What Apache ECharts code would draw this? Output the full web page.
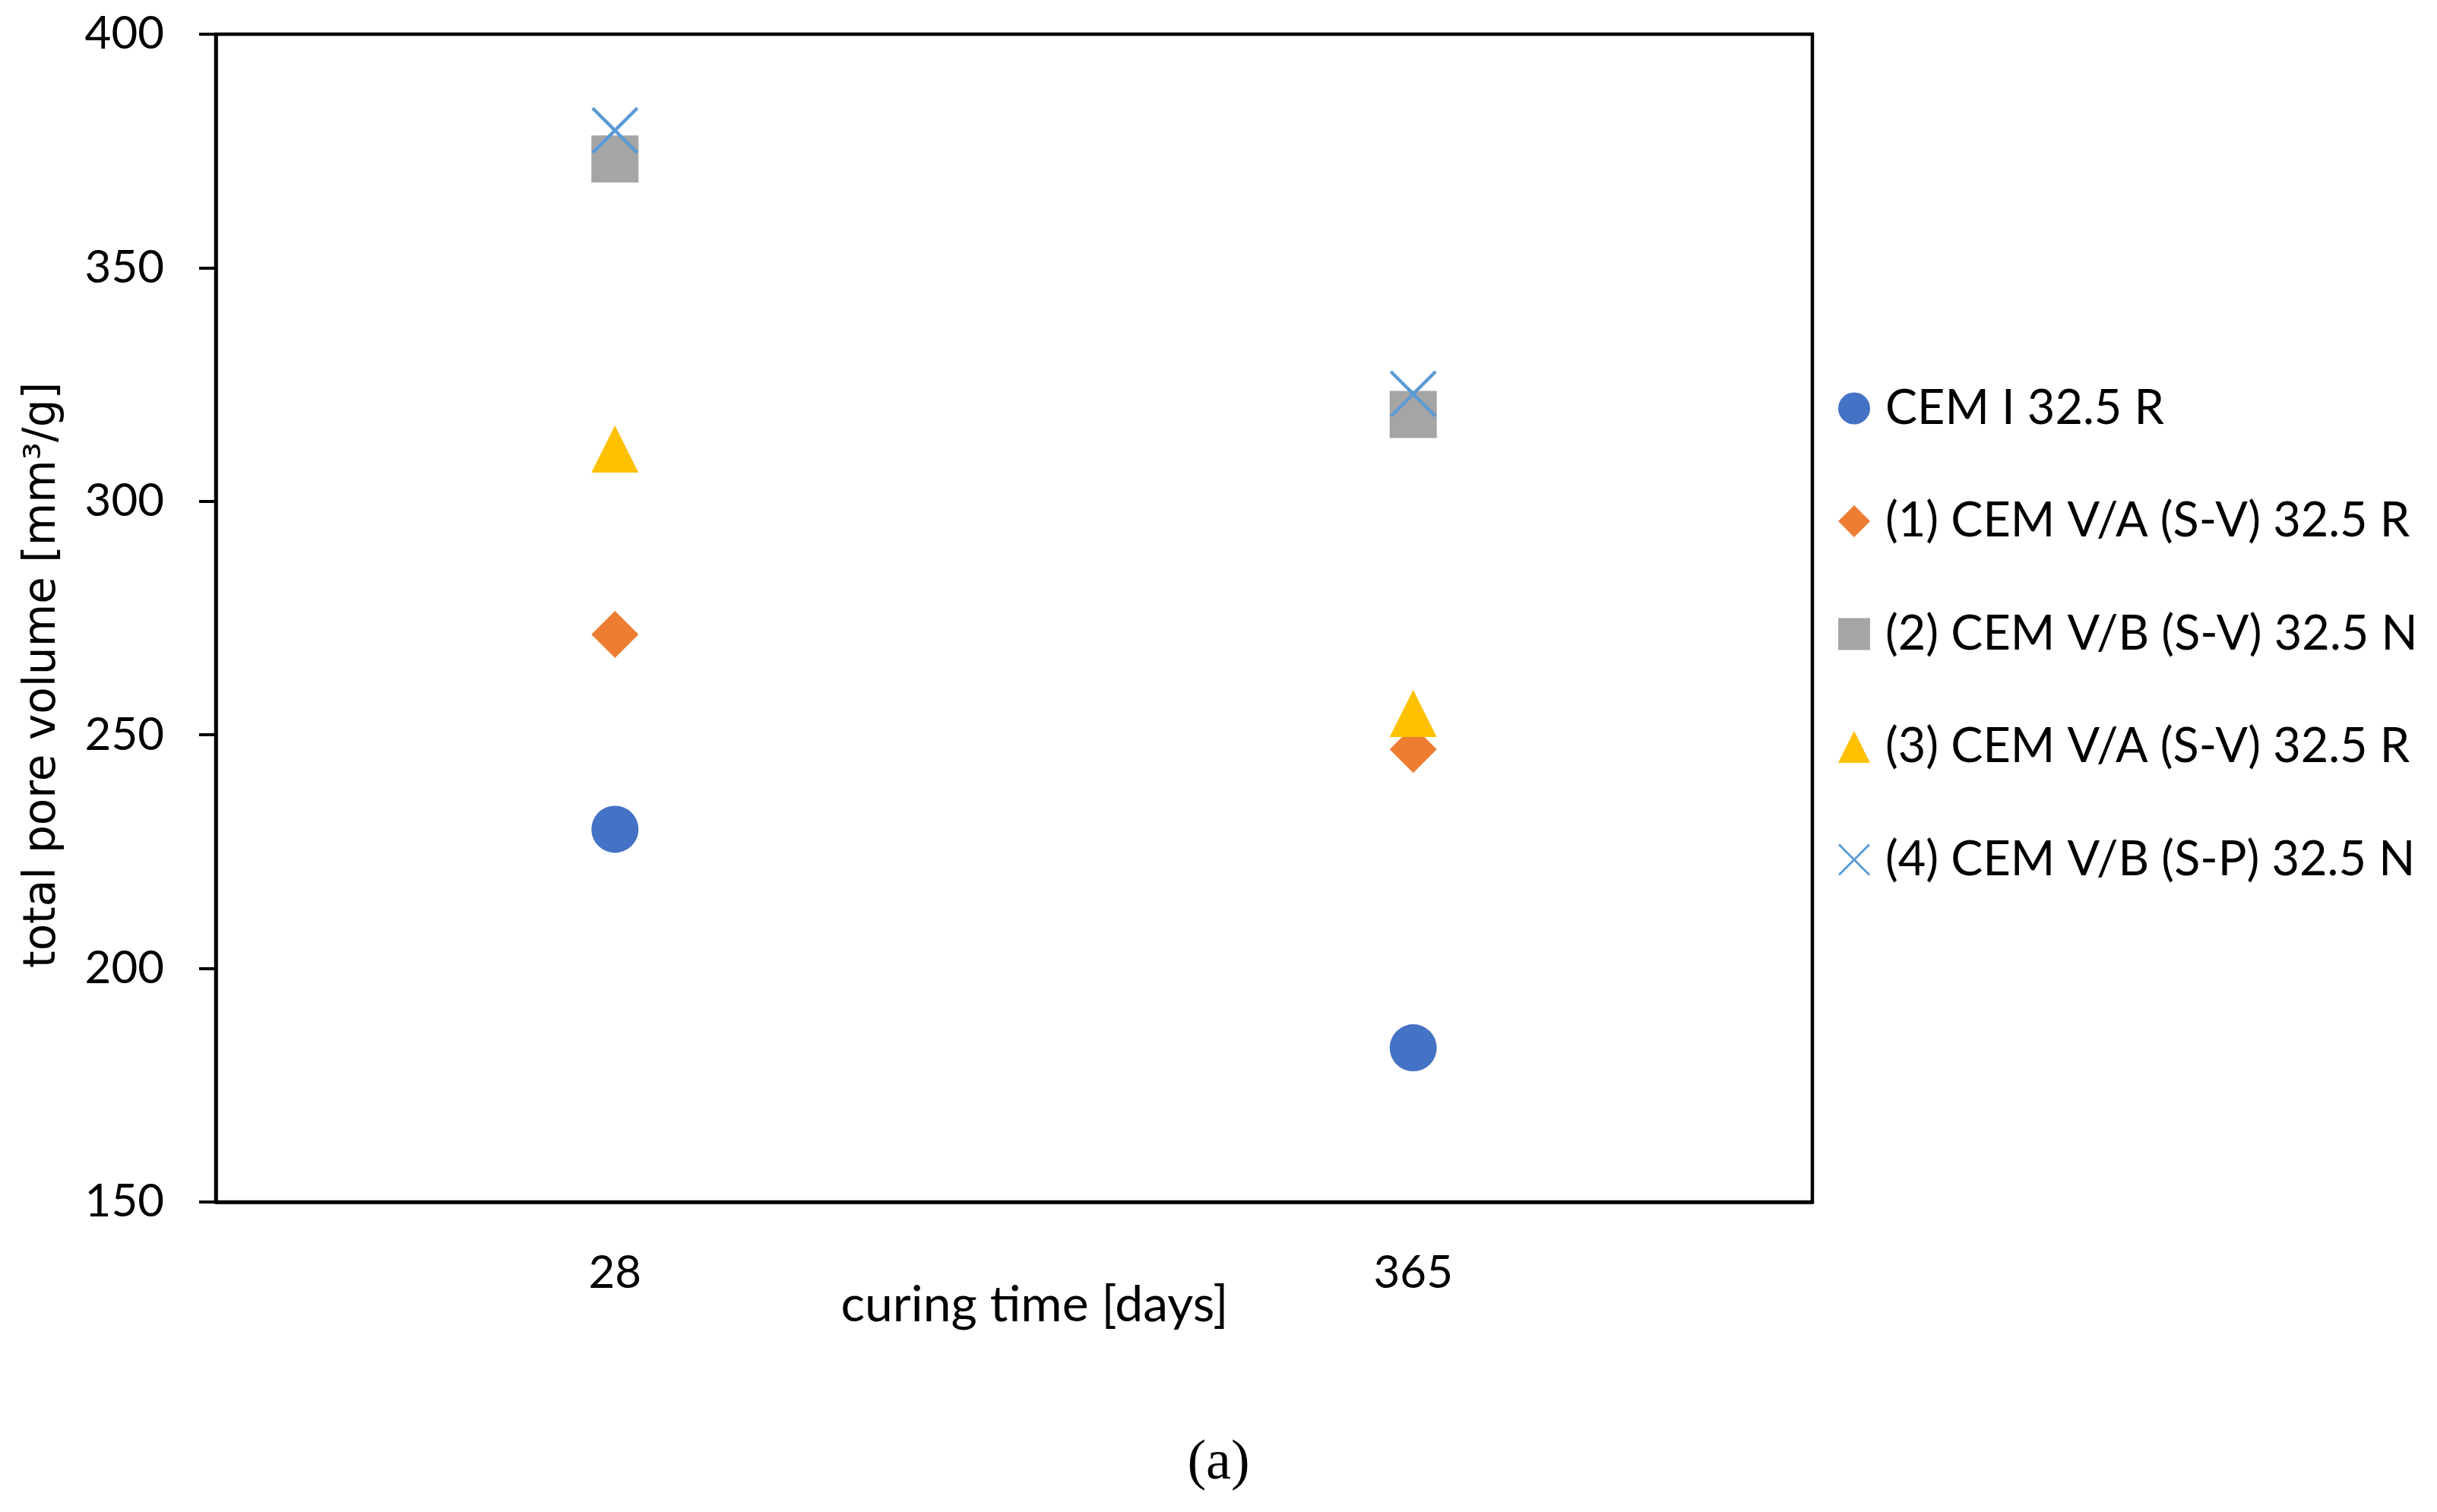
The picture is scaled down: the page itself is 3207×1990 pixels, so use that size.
<!DOCTYPE html>
<html>
<head>
<meta charset="utf-8">
<script src="https://cdn.jsdelivr.net/npm/echarts@6/dist/echarts.min.js"></script>
<style>
  html, body { margin: 0; padding: 0; background: #fff; }
  #main { width: 3207px; height: 1990px; }
</style>
</head>
<body>
<div id="main"></div>
<script>
var categories = ['28', '365'];
var seriesNames = [
	'CEM I 32.5 R',
	'(1) CEM V/A (S-V) 32.5 R',
	'(2) CEM V/B (S-V) 32.5 N',
	'(3) CEM V/A (S-V) 32.5 R',
	'(4) CEM V/B (S-P) 32.5 N'
];
var cemI = [229.8, 183.0];
var cemVA1 = [271.5, 246.9];
var cemVB2 = [373.3, 318.6];
var cemVA3 = [311.2, 254.6];
var cemVB4 = [379.4, 323.0];
var yMin = 150, yMax = 400, yStep = 50;

var values = [cemI, cemVA1, cemVB2, cemVA3, cemVB4];
var colors = ['#4472C4', '#ED7D31', '#A5A5A5', '#FFC000', '#5B9BD5'];
// X mark drawn as a filled polygon so it keeps its thin stroke look
var crossPath = 'path://M0,5 L5,0 L50,45 L95,0 L100,5 L55,50 L100,95 L95,100 L50,55 L5,100 L0,95 L45,50 Z';
var symbols = ['circle', 'diamond', 'rect', 'triangle', crossPath];

var myChart = echarts.init(document.getElementById('main'));

var option = {
	backgroundColor: '#fff',
	animation: false,
	grid: {
		left: 284,
		right: 822,
		top: 45,
		bottom: 408,
		show: true,
		borderColor: '#000',
		borderWidth: 4.5
	},
	legend: {
		orient: 'vertical',
		left: 2414,
		top: 501,
		itemWidth: 42,
		itemHeight: 42,
		itemGap: 85.5,
		data: seriesNames,
		textStyle: {
			fontFamily: 'Lato',
			fontSize: 63,
			color: '#000',
			padding: [0, 0, 0, 15]
		}
	},
	xAxis: {
		type: 'category',
		data: categories,
		name: 'curing time [days]',
		nameLocation: 'middle',
		nameGap: 103,
		nameMoveOverlap: false,
		nameTextStyle: {
			fontFamily: 'Lato',
			fontSize: 66,
			color: '#000',
			padding: [0, 0, 0, 54]
		},
		axisLine: { lineStyle: { color: '#000', width: 4.5 } },
		axisTick: { show: false },
		axisLabel: {
			fontFamily: 'Lato',
			fontSize: 60,
			color: '#000',
			margin: 64
		},
		splitLine: { show: false }
	},
	yAxis: {
		type: 'value',
		min: yMin,
		max: yMax,
		interval: yStep,
		name: 'total pore volume [mm³/g]',
		nameLocation: 'middle',
		nameGap: 198,
		nameMoveOverlap: false,
		nameTextStyle: {
			fontFamily: 'DejaVu Sans',
			fontSize: 58,
			color: '#000',
			padding: [0, 150, 0, 0]
		},
		axisLine: { show: true, lineStyle: { color: '#000', width: 4.5 } },
		axisTick: { show: true, length: 22, lineStyle: { color: '#000', width: 4 } },
		axisLabel: {
			fontFamily: 'Lato',
			fontSize: 60,
			color: '#000',
			margin: 68
		},
		splitLine: { show: false }
	},
	graphic: [{
		type: 'text',
		left: 'center',
		top: 1890,
		style: {
			text: '(a)',
			fontFamily: 'Liberation Serif',
			fontSize: 74,
			fill: '#000'
		}
	}],
	series: []
};

for (var i = 0; i < seriesNames.length; i++) {
	option.series.push({
		name: seriesNames[i],
		type: 'scatter',
		symbol: symbols[i],
		symbolSize: 62,
		itemStyle: { color: colors[i], opacity: 1 },
		data: values[i]
	});
}

myChart.setOption(option);
</script>
</body>
</html>
